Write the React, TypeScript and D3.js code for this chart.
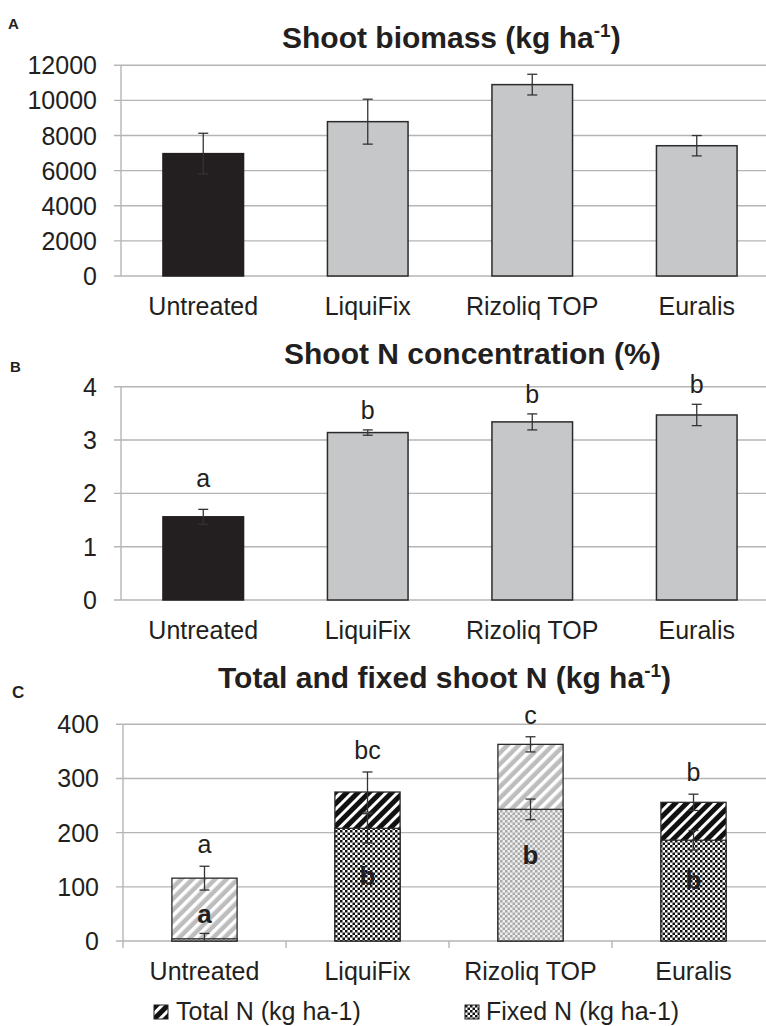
import React from "react";
import * as d3 from "d3";

// treatments
const categories = ["Untreated", "LiquiFix", "Rizoliq TOP", "Euralis"];

// A: shoot biomass (kg ha-1)
const biomass = [6970, 8790, 10900, 7420];
const biomassErr = [1160, 1280, 590, 580];
const biomassTicks = [0, 2000, 4000, 6000, 8000, 10000, 12000];

// B: shoot N concentration (%)
const nConc = [1.56, 3.14, 3.34, 3.47];
const nConcErr = [0.14, 0.05, 0.15, 0.2];
const nConcLetters = ["a", "b", "b", "b"];
const nConcTicks = [0, 1, 2, 3, 4];

// C: total and fixed shoot N (kg ha-1)
const totalN = [116, 275, 363, 256];
const totalNErr = [22, 37, 14, 15];
const fixedN = [4, 208, 243, 186];
const fixedNErr = [10, 27, 19, 18];
const totalLetters = ["a", "bc", "c", "b"];
const fixedLetters = ["a", "b", "b", "b"];
const totalTicks = [0, 100, 200, 300, 400];

const W = 766;
const H = 1026;
const FONT = "'Liberation Sans', Arial, Helvetica, sans-serif";
const GRID = "#b5b5b5";
const INK = "#231f20";
const BAR_GREY = "#c6c7c8";

const solidFills = [INK, BAR_GREY, BAR_GREY, BAR_GREY];
const totalFills = ["url(#hatchGrey)", "url(#hatchBlack)", "url(#hatchGrey)", "url(#hatchBlack)"];
const fixedFills = ["url(#checkGrey)", "url(#checkBlack)", "url(#checkGrey)", "url(#checkBlack)"];

function ErrBar({ x, yHi, yLo, capLo = true }: any) {
  return (
    <g stroke="#333" strokeWidth={1.3}>
      <line x1={x} x2={x} y1={yHi} y2={yLo} />
      <line x1={x - 5} x2={x + 5} y1={yHi} y2={yHi} />
      {capLo && <line x1={x - 5} x2={x + 5} y1={yLo} y2={yLo} />}
    </g>
  );
}

function Frame({ y, x, ticks, left, bottom, xTicks }: any) {
  const top = y(d3.max(ticks) as number);
  return (
    <g>
      {ticks.map((t: number) => (
        <g key={t}>
          <line x1={left - 7} x2={W} y1={y(t)} y2={y(t)} stroke={GRID} strokeWidth={1.4} />
          <text x={left - 24} y={y(t)} dy="0.36em" textAnchor="end" fontSize={25} fill={INK}>
            {t}
          </text>
        </g>
      ))}
      <line x1={left} x2={left} y1={top} y2={bottom + (xTicks ? 7 : 0)} stroke={GRID} strokeWidth={1.4} />
      {xTicks &&
        categories.map((c) => (
          <line key={c} x1={x(c) + x.bandwidth()} x2={x(c) + x.bandwidth()} y1={bottom} y2={bottom + 7} stroke={GRID} strokeWidth={1.4} />
        ))}
      {categories.map((c) => (
        <text key={c} x={x(c) + x.bandwidth() / 2} y={bottom + 39} textAnchor="middle" fontSize={25} fill={INK}>
          {c}
        </text>
      ))}
    </g>
  );
}

function SimplePanel({ values, errs, ticks, top, bottom, letters }: any) {
  const left = 121;
  const x = d3.scaleBand().domain(categories).range([left, left + 4 * 164.5]).padding(0);
  const y = d3.scaleLinear().domain([0, d3.max(ticks) as number]).range([bottom, top]);
  const bw = x.bandwidth() * 0.49;
  return (
    <g>
      <Frame x={x} y={y} ticks={ticks} left={left} bottom={bottom} />
      {categories.map((c, i) => {
        const cx = (x(c) as number) + x.bandwidth() / 2;
        return (
          <g key={c}>
            <rect x={cx - bw / 2} y={y(values[i])} width={bw} height={bottom - y(values[i])}
              fill={solidFills[i]} stroke={i === 0 ? INK : "#2b2b2b"} strokeWidth={1.5} />
            <ErrBar x={cx} yHi={y(values[i] + errs[i])} yLo={y(values[i] - errs[i])} />
            {letters && (
              <text x={cx} y={y(values[i] + errs[i]) - (i === 0 ? 22 : 11)} textAnchor="middle" fontSize={25} fill={INK}>
                {letters[i]}
              </text>
            )}
          </g>
        );
      })}
    </g>
  );
}

function NPanel({ top, bottom }: any) {
  const left = 123;
  const x = d3.scaleBand().domain(categories).range([left, left + 4 * 163]).padding(0);
  const y = d3.scaleLinear().domain([0, d3.max(totalTicks) as number]).range([bottom, top]);
  const bw = x.bandwidth() * 0.4;
  return (
    <g>
      <Frame x={x} y={y} ticks={totalTicks} left={left} bottom={bottom} xTicks />
      {categories.map((c, i) => {
        const cx = (x(c) as number) + x.bandwidth() / 2;
        const fLo = Math.max(0, fixedN[i] - fixedNErr[i]);
        return (
          <g key={c}>
            <rect x={cx - bw / 2} y={y(totalN[i])} width={bw} height={bottom - y(totalN[i])}
              fill={totalFills[i]} stroke="#2b2b2b" strokeWidth={1.3} />
            <rect x={cx - bw / 2} y={y(fixedN[i])} width={bw} height={bottom - y(fixedN[i])}
              fill={fixedFills[i]} stroke="#2b2b2b" strokeWidth={1.3} />
            <ErrBar x={cx} yHi={y(totalN[i] + totalNErr[i])} yLo={y(totalN[i] - totalNErr[i])} />
            <ErrBar x={cx} yHi={y(fixedN[i] + fixedNErr[i])} yLo={y(fLo)} capLo={fLo > 0} />
            <text x={cx} y={y(totalN[i] + totalNErr[i]) - 13} textAnchor="middle" fontSize={25} fill={INK}>
              {totalLetters[i]}
            </text>
            <text x={cx} y={y(totalN[i] * 0.44)} dy="0.36em" textAnchor="middle" fontSize={26}
              fontWeight="bold" fill={INK}>
              {fixedLetters[i]}
            </text>
          </g>
        );
      })}
    </g>
  );
}

export default function App() {
  return (
    <svg width={W} height={H} style={{ position: "absolute", left: 0, top: 0, background: "#fff" }}
      fontFamily={FONT}>
      <defs>
        <pattern id="hatchBlack" width={8} height={8} patternUnits="userSpaceOnUse" patternTransform="rotate(45)">
          <rect width={8} height={8} fill="#111" />
          <rect width={3} height={8} fill="#fff" />
        </pattern>
        <pattern id="hatchGrey" width={8} height={8} patternUnits="userSpaceOnUse" patternTransform="rotate(45)">
          <rect width={8} height={8} fill="#bdbdbd" />
          <rect width={3.5} height={8} fill="#fff" />
        </pattern>
        <pattern id="checkBlack" width={5} height={5} patternUnits="userSpaceOnUse">
          <rect width={5} height={5} fill="#fff" />
          <rect width={2.5} height={2.5} fill="#111" />
          <rect x={2.5} y={2.5} width={2.5} height={2.5} fill="#111" />
        </pattern>
        <pattern id="checkGrey" width={5} height={5} patternUnits="userSpaceOnUse">
          <rect width={5} height={5} fill="#eee" />
          <rect width={2.5} height={2.5} fill="#aaa" />
          <rect x={2.5} y={2.5} width={2.5} height={2.5} fill="#aaa" />
        </pattern>
      </defs>
      <rect width={W} height={H} fill="#fff" />

      {/* A */}
      <text x={8} y={29} fontSize={15} fontWeight="bold" fill={INK}>A</text>
      <text x={282} y={48} fontSize={30} fontWeight="bold" fill={INK}>
        Shoot biomass (kg ha<tspan fontSize={19} dy={-11}>-1</tspan><tspan dy={11}>)</tspan>
      </text>
      <SimplePanel values={biomass} errs={biomassErr} ticks={biomassTicks} top={65.3} bottom={276} />

      {/* B */}
      <text x={10} y={372} fontSize={15} fontWeight="bold" fill={INK}>B</text>
      <text x={284} y={364} fontSize={30} fontWeight="bold" fill={INK}>Shoot N concentration (%)</text>
      <SimplePanel values={nConc} errs={nConcErr} ticks={nConcTicks} top={386.7} bottom={600} letters={nConcLetters} />

      {/* C */}
      <text x={12} y={698} fontSize={17} fontWeight="bold" fill={INK}>C</text>
      <text x={218} y={688} fontSize={30} fontWeight="bold" fill={INK}>
        Total and fixed shoot N (kg ha<tspan fontSize={19} dy={-11}>-1</tspan><tspan dy={11}>)</tspan>
      </text>
      <NPanel top={724.3} bottom={941} />

      {/* legend */}
      <rect x={154} y={1005} width={14} height={14} fill="url(#hatchBlack)" stroke="#222" strokeWidth={1} />
      <text x={176} y={1020} fontSize={25} fill={INK}>Total N (kg ha-1)</text>
      <rect x={465} y={1005} width={14} height={14} fill="url(#checkBlack)" stroke="#222" strokeWidth={1} />
      <text x={486} y={1020} fontSize={25} fill={INK}>Fixed N (kg ha-1)</text>
    </svg>
  );
}
